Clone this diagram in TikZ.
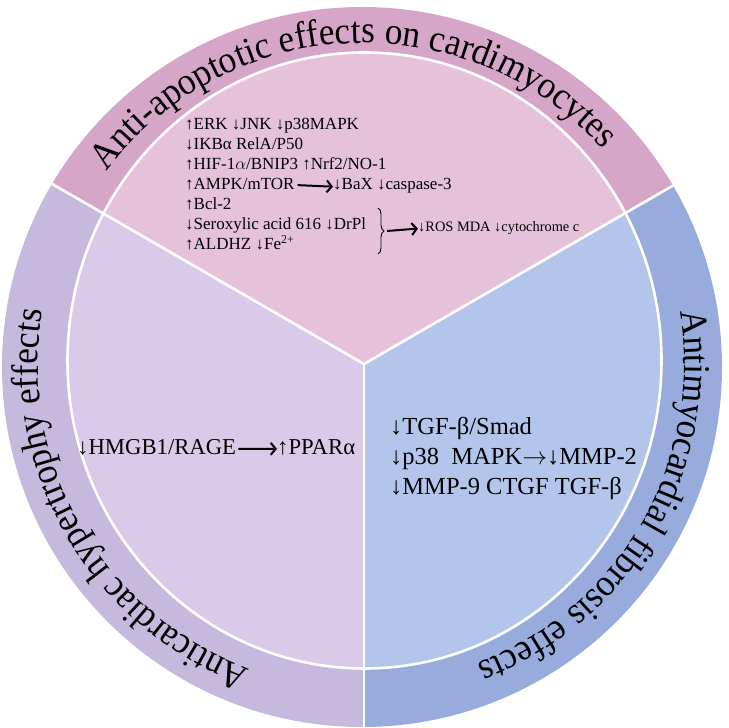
\documentclass[tikz,border=0pt]{standalone}
\usepackage{fontspec}
\setmainfont{Liberation Serif}
\newfontfamily\ringfam[FakeStretch=0.93]{Liberation Serif}
\usetikzlibrary{decorations.text,decorations.pathreplacing,arrows.meta}
\definecolor{topring}{RGB}{213,166,199}
\definecolor{topin}{RGB}{229,194,218}
\definecolor{leftring}{RGB}{197,186,221}
\definecolor{leftin}{RGB}{216,202,232}
\definecolor{rightring}{RGB}{152,171,221}
\definecolor{rightin}{RGB}{179,197,235}
\newcommand{\ringfont}{\ringfam\fontsize{38}{38}\selectfont}
\tikzset{
  sep/.style={white,line width=2.6pt},
  topline/.style={anchor=base west,inner sep=0pt,font=\fontsize{17}{20}\selectfont},
  smallline/.style={anchor=base west,inner sep=0pt,font=\fontsize{14.4}{16}\selectfont},
  leftline/.style={anchor=base west,inner sep=0pt,font=\fontsize{22.7}{26}\selectfont},
  rightline/.style={anchor=base west,inner sep=0pt,font=\fontsize{24.5}{29}\selectfont},
  bigarrow/.style={line width=2pt,-{Straight Barb[length=5pt,width=12pt]}},
  ringtext/.style={decorate,decoration={text along path,text align=center,text={|\ringfont|#1}}}
}
\begin{document}
\begin{tikzpicture}[x=1pt,y=1pt]
\useasboundingbox (0,0) rectangle (728,728);
\coordinate (C) at (364,364);
% outer ring sectors
\begin{scope}
  \clip (362,361) circle[radius=360];
  \fill[topring]   [shift={(364,364)}] (0,0) -- (150:900) -- (90:900) -- (30:900) -- cycle;
  \fill[leftring]  [shift={(364,364)}] (0,0) -- (150:900) -- (210:900) -- (270:900) -- cycle;
  \fill[rightring] [shift={(364,364)}] (0,0) -- (270:900) -- (330:900) -- (30:900) -- cycle;
  \begin{scope}
    \clip (364.5,367.5) ellipse[x radius=297, y radius=308];
    \fill[topin]   [shift={(364,364)}] (0,0) -- (150:900) -- (90:900) -- (30:900) -- cycle;
    \fill[leftin]  [shift={(364,364)}] (0,0) -- (150:900) -- (210:900) -- (270:900) -- cycle;
    \fill[rightin] [shift={(364,364)}] (0,0) -- (270:900) -- (330:900) -- (30:900) -- cycle;
  \end{scope}
  \draw[sep] (364.5,367.5) ellipse[x radius=297, y radius=308];
  \draw[sep] (C) -- ++(150:900);
  \draw[sep] (C) -- ++(30:900);
  \draw[sep] (C) -- ++(270:900);
\end{scope}
% ring titles
\path[ringtext={Anti-apoptotic effects on cardimyocytes}]
  ([shift={(364,364)}]152.5:321) arc[start angle=152.5,end angle=32.5,radius=321];
\path[ringtext={Anticardiac hypertrophy effects}]
  ([shift={(364,364)}]270:326) arc[start angle=270,end angle=150,radius=326];
\path[ringtext={Antimyocardial fibrosis effects}]
  ([shift={(364,364)}]30:320) arc[start angle=30,end angle=-90,radius=320];
% top block
\node[topline] (t1) at (185,598.5) {↑ERK ↓JNK ↓p38MAPK};
\node[topline] (t2) at (185,578.5) {↓IKBα RelA/P50};
\node[topline] (t3) at (185,558.5) {↑HIF-1$\alpha$/BNIP3 ↑Nrf2/NO-1};
\node[topline] (t4a) at (185,538.5) {↑AMPK/mTOR};
\node[topline] (t4b) at (333,538.5) {↓BaX ↓caspase-3};
\draw[bigarrow] ([xshift=3pt,yshift=-1pt]t4a.east) -- ([yshift=-1pt]t4b.west);
\node[topline] (t5) at (185,518.5) {↑Bcl-2};
\node[topline] (t6) at (185,498.5) {↓Seroxylic acid 616 ↓DrPl};
\node[topline] (t7) at (185,478.5) {↑ALDHZ ↓Fe\textsuperscript{2+}};
\coordinate (bt) at (378,520);
\coordinate (bb) at (378,474);
\draw[line width=0.9pt,decorate,decoration={brace,amplitude=6pt}] (bt) -- (bb);
\coordinate (btip) at (387,497);
\node[smallline] (ros) at (418,496) {↓ROS MDA ↓cytochrome c};
\draw[bigarrow] (btip) -- (ros.west);
% left block
\node[leftline] (l1) at (77,273) {↓HMGB1/RAGE};
\node[leftline] (l2) at (277,273) {↑PPARα};
\draw[bigarrow] ([xshift=2pt,yshift=-1pt]l1.east) -- ([yshift=-1pt]l2.west);
% right block
\node[rightline] (r1) at (390,293) {↓TGF-β/Smad};
\node[rightline] (r2) at (390,263) {↓p38~~MAPK$\rightarrow$↓MMP-2};
\node[rightline] (r3) at (390,233) {↓MMP-9 CTGF TGF-β};
\end{tikzpicture}
\end{document}
